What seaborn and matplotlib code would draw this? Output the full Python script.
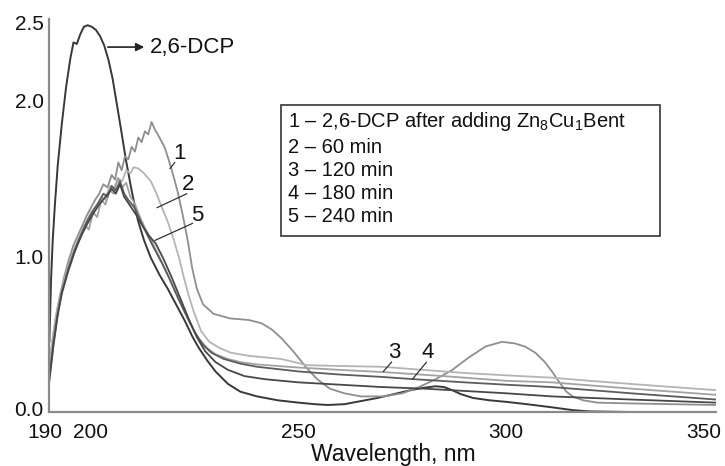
import numpy as np
import pandas as pd
import matplotlib
matplotlib.use("Agg")
import matplotlib.pyplot as plt
import matplotlib.patches as mpatches
import matplotlib.transforms as mtrans
import seaborn as sns

# ---------------- data ----------------
wl_dcp = [190, 190.4, 190.8, 191.3, 192, 193, 194, 195, 195.8, 196.6, 197.4, 198.3, 199.2, 200.2,
          201.2, 202.2, 203.2, 204.2, 205.2, 206.2, 207.2, 208.4, 209.8, 211.3, 212.8, 214.4, 216.5,
          218.5, 220.5, 222.5, 224.5, 226, 228, 230, 233, 236, 240, 245, 250, 254, 257, 261, 265,
          269, 273, 277, 280, 283, 285, 287, 289, 292, 296, 300, 305, 311, 316, 320, 330, 340, 350.5]
abs_dcp = [0.45, 0.85, 1.1, 1.32, 1.58, 1.85, 2.08, 2.26, 2.37, 2.36, 2.42, 2.47, 2.48, 2.47,
           2.45, 2.41, 2.35, 2.26, 2.14, 1.98, 1.82, 1.62, 1.42, 1.23, 1.10, 0.99, 0.88,
           0.79, 0.69, 0.59, 0.48, 0.41, 0.33, 0.26, 0.18, 0.13, 0.10, 0.075, 0.06, 0.05, 0.045, 0.05, 0.07,
           0.09, 0.115, 0.14, 0.155, 0.165, 0.16, 0.14, 0.115, 0.09, 0.075, 0.065, 0.05, 0.03, 0.012, 0.004, 0.0, 0.0, 0.0]

wl_1 = [190, 190.7, 191.5, 192.5, 193.5, 194.6, 195.8, 197, 198, 199, 200, 201, 202, 203, 204, 205,
        205.8, 206.6, 207.4, 208.2, 209, 209.8, 210.6, 211.4, 212.2, 213, 213.8, 214.6, 215.4, 216.1,
        216.9, 217.7, 218.7, 219.8, 221, 222.2, 223.3, 224.4, 225.5, 227, 229.5, 233.5, 238, 241,
        243.5, 246, 249, 252, 254.5, 257.5, 261, 265, 270.5, 275, 279, 283, 287, 291, 295, 299, 302,
        304.5, 307, 309.3, 311, 312.8, 314.5, 316, 318.5, 322, 330, 340, 350.5]
abs_1 = [0.28, 0.45, 0.6, 0.74, 0.86, 0.97, 1.07, 1.14, 1.2, 1.26, 1.31, 1.36, 1.40, 1.46, 1.44, 1.52,
         1.49, 1.6, 1.55, 1.64, 1.62, 1.70, 1.67, 1.76, 1.73, 1.80, 1.78, 1.86, 1.81, 1.78,
         1.74, 1.70, 1.62, 1.52, 1.40, 1.25, 1.10, 0.92, 0.79, 0.69, 0.63, 0.60, 0.59, 0.57,
         0.53, 0.47, 0.38, 0.28, 0.21, 0.15, 0.12, 0.10, 0.10, 0.12, 0.16, 0.21, 0.27, 0.35, 0.42, 0.45, 0.44,
         0.42, 0.38, 0.32, 0.26, 0.19, 0.13, 0.10, 0.075, 0.06, 0.055, 0.05, 0.045]

wl_2 = [190, 191, 192, 193, 194.5, 196, 198, 200, 201.5, 202.5, 203.5, 204.5, 205.5, 206.5, 207.5,
        208.5, 209.5, 210.3, 211.5, 212.8, 214.4, 215.8, 216.8, 218.5, 220, 221.3, 222.4, 223.5,
        224.8, 226.5, 228.5, 231, 233.7, 238, 242, 245.8, 249, 252, 260, 270, 280, 290, 300, 311,
        320, 335, 350.5]
abs_2 = [0.3, 0.52, 0.68, 0.8, 0.93, 1.05, 1.17, 1.28, 1.33, 1.38, 1.36, 1.45, 1.43, 1.5, 1.48,
         1.55, 1.53, 1.57, 1.56, 1.53, 1.48, 1.40, 1.33, 1.22, 1.10, 0.98, 0.86, 0.75,
         0.64, 0.52, 0.45, 0.41, 0.38, 0.36, 0.35, 0.34, 0.32, 0.30, 0.295, 0.29, 0.27, 0.25, 0.235, 0.22,
         0.2, 0.17, 0.14]

wl_3 = [190, 191, 192, 193, 194.5, 196, 197.5, 198.5, 199.5, 200.5, 201.5, 202.5, 203.5, 204.5,
        205.5, 206.5, 207.5, 208.5, 209.5, 210.5, 211.5, 213, 214.5, 216, 218, 220, 222, 224, 226,
        228, 230, 233, 236, 240, 245, 250, 260, 271, 285, 300, 311, 330, 350.5]
abs_3 = [0.25, 0.48, 0.65, 0.78, 0.92, 1.04, 1.12, 1.2, 1.17, 1.28, 1.25, 1.36, 1.33, 1.42,
         1.40, 1.5, 1.44, 1.47, 1.38, 1.34, 1.27, 1.18, 1.10, 1.02, 0.91, 0.79, 0.67, 0.56, 0.47,
         0.41, 0.37, 0.34, 0.32, 0.305, 0.295, 0.285, 0.27, 0.255, 0.23, 0.2, 0.19, 0.15, 0.11]

wl_4 = [190, 191, 192, 193, 194.5, 196, 197.5, 199, 200.5, 202, 203, 204, 205, 206, 207, 208, 209,
        210.5, 212, 213.5, 215, 217, 219, 221, 223, 225, 227, 229, 232, 236, 240, 245, 250, 260,
        270, 278, 290, 300, 311, 330, 350.5]
abs_4 = [0.22, 0.45, 0.63, 0.77, 0.91, 1.03, 1.13, 1.22, 1.29, 1.35, 1.40, 1.38, 1.45, 1.42, 1.48, 1.40, 1.36,
         1.31, 1.22, 1.14, 1.06, 0.96, 0.85, 0.73, 0.62, 0.51, 0.43, 0.38, 0.34, 0.31, 0.29, 0.275, 0.26, 0.24,
         0.225, 0.21, 0.19, 0.175, 0.16, 0.12, 0.08]

wl_5 = [190, 191, 192, 193, 194.5, 196, 197.5, 199, 200.5, 202, 203.5, 205, 206, 207, 208, 209.5,
        211, 212.5, 214, 215.6, 217.5, 219.5, 221.5, 223.5, 225.5, 227.5, 230, 233, 237, 242, 250,
        260, 270, 280, 290, 300, 311, 330, 350.5]
abs_5 = [0.2, 0.43, 0.62, 0.76, 0.9, 1.02, 1.12, 1.2, 1.27, 1.33, 1.38, 1.43, 1.40, 1.46, 1.38, 1.32,
         1.26, 1.19, 1.13, 1.08, 0.98, 0.86, 0.73, 0.6, 0.48, 0.39, 0.32, 0.27, 0.23, 0.21, 0.19,
         0.175, 0.16, 0.15, 0.135, 0.12, 0.10, 0.08, 0.06]

x_ticks = [190, 200, 250, 300, 350]
y_ticks = [0.0, 1.0, 2.0, 2.5]
y_ticklabels = ["0.0", "1.0", "2.0", "2.5"]
legend_lines = ["1 – 2,6-DCP after adding Zn$_8$Cu$_1$Bent", "2 – 60 min", "3 – 120 min",
                "4 – 180 min", "5 – 240 min"]

# ---------------- style ----------------
sns.set_style("white")
plt.rcParams["font.family"] = ["Liberation Sans", "DejaVu Sans"]
plt.rcParams["mathtext.fontset"] = "custom"
plt.rcParams["mathtext.rm"] = "Liberation Sans"
plt.rcParams["mathtext.it"] = "Liberation Sans"

W, H = 725, 466
fig = plt.figure(figsize=(W / 100, H / 100), dpi=100)
L, R, T, B = 49.4, 716, 19, 412
ax = fig.add_axes([L / W, 1 - B / H, (R - L) / W, (B - T) / H])

series = [
    (wl_dcp, abs_dcp, "#383838", 1.4),
    (wl_1, abs_1, "#8e8e8e", 1.3),
    (wl_2, abs_2, "#b4b4b4", 1.3),
    (wl_3, abs_3, "#a2a2a2", 1.3),
    (wl_4, abs_4, "#5c5c5c", 1.3),
    (wl_5, abs_5, "#484848", 1.3),
]
for xs, ys, col, lw in series:
    df = pd.DataFrame({"wl": xs, "A": ys})
    sns.lineplot(data=df, x="wl", y="A", ax=ax, color=col, lw=lw, sort=False, estimator=None)

ax.set_xlim(190, 350.5)
ax.set_ylim(0, 2.52)
ax.set_xticks(x_ticks)
ax.set_xticklabels([str(t) for t in x_ticks])
ax.set_yticks(y_ticks)
ax.set_yticklabels(y_ticklabels)
ax.tick_params(axis="both", direction="in", length=3, width=1, colors="#888888",
               labelcolor="#111111", labelsize=15)
ax.tick_params(axis="x", pad=8)
ax.tick_params(axis="y", pad=4)
ax.set_ylabel("")
ax.set_xlabel("Wavelength, nm", fontsize=16.5, color="#111111", va="center")
ax.xaxis.set_label_coords((393 - L) / (R - L), (B - 454) / (B - T))
for s in ["top", "right"]:
    ax.spines[s].set_visible(False)
for s in ["left", "bottom"]:
    ax.spines[s].set_color("#8a8a8a")
    ax.spines[s].set_linewidth(1.6)

# nudge tick labels like the reference
xt = ax.get_xticklabels()
xt[0].set_transform(xt[0].get_transform() + mtrans.ScaledTranslation(-5 / 100, 0, fig.dpi_scale_trans))
xt[-1].set_transform(xt[-1].get_transform() + mtrans.ScaledTranslation(-10 / 100, 0, fig.dpi_scale_trans))
yt = ax.get_yticklabels()
yt[0].set_transform(yt[0].get_transform() + mtrans.ScaledTranslation(0, 3 / 100, fig.dpi_scale_trans))

# annotation for 2,6-DCP
ax.annotate("", xy=(213.5, 2.34), xytext=(203.4, 2.34),
            arrowprops=dict(arrowstyle="-|>", color="#222222", lw=1.2, mutation_scale=12))
ax.text(214.2, 2.34, "2,6-DCP", fontsize=16, va="center", ha="left", color="#111111")

# curve number labels with leader lines
labels = [
    ("1", 221.3, 1.66, (220.2, 1.60), (219.0, 1.56)),
    ("2", 223.5, 1.46, (223.1, 1.40), (215.9, 1.31)),
    ("5", 225.7, 1.26, (224.5, 1.21), (215.4, 1.10)),
    ("3", 273.1, 0.38, (272.4, 0.32), (270.4, 0.26)),
    ("4", 281.0, 0.38, (280.8, 0.32), (277.4, 0.21)),
]
for t, tx, ty, p0, p1 in labels:
    ax.text(tx, ty, t, fontsize=16, ha="center", va="center", color="#111111")
    ax.plot([p0[0], p1[0]], [p0[1], p1[1]], color="#333333", lw=0.9)

# legend box
def fx(px):
    return (px - L) / (R - L)

def fy(py):
    return (B - py) / (B - T)

rect = mpatches.Rectangle((fx(281), fy(236)), fx(660) - fx(281), fy(105) - fy(236),
                          transform=ax.transAxes, fill=True, facecolor="white",
                          edgecolor="#444444", lw=1.3, zorder=5)
ax.add_patch(rect)
ys_px = [122, 148, 171, 194, 217]
for txt, py in zip(legend_lines, ys_px):
    ax.text(fx(288), fy(py), txt, transform=ax.transAxes, fontsize=14.5, ha="left",
            va="center", color="#111111", zorder=6)

fig.savefig("out.png", dpi=100)
